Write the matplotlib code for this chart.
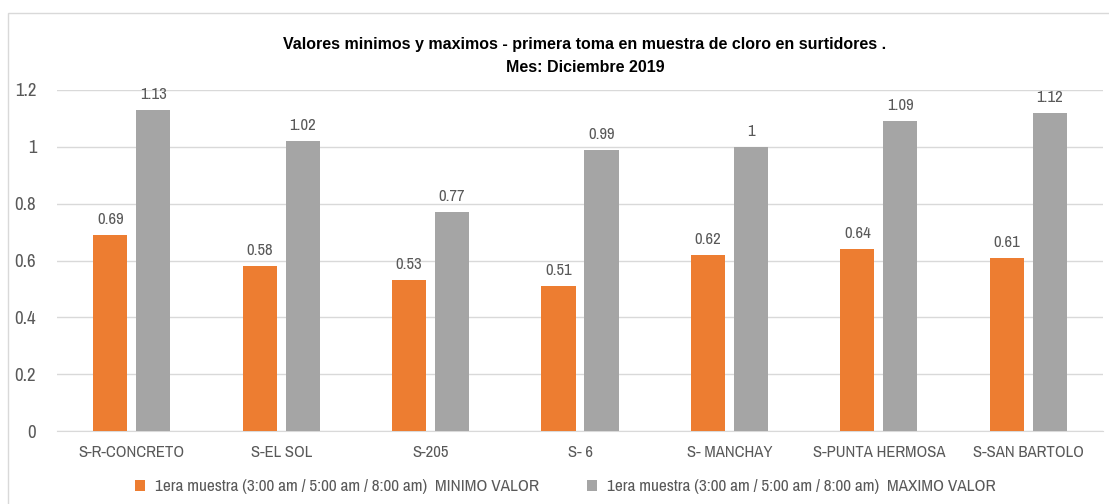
import matplotlib
matplotlib.use('Agg')
from matplotlib import pyplot as plt
from matplotlib import font_manager
from matplotlib.patches import Rectangle
import numpy as np

# Data
categories = ['S-R-CONCRETO', 'S-EL SOL', 'S-205', 'S- 6', 'S- MANCHAY', 'S-PUNTA HERMOSA', 'S-SAN BARTOLO']
min_values = [0.69, 0.58, 0.53, 0.51, 0.62, 0.64, 0.61]
max_values = [1.13, 1.02, 0.77, 0.99, 1.00, 1.09, 1.12]
min_labels = ['0.69', '0.58', '0.53', '0.51', '0.62', '0.64', '0.61']
max_labels = ['1.13', '1.02', '0.77', '0.99', '1', '1.09', '1.12']
yticks = [0, 0.2, 0.4, 0.6, 0.8, 1.0, 1.2]
ytick_labels = ['0', '0.2', '0.4', '0.6', '0.8', '1', '1.2']

# pick a narrow sans (Arial Narrow look-alike)
names = {f.name for f in font_manager.fontManager.ttflist}
narrow = 'Liberation Sans'
for cand in ['Liberation Sans Narrow', 'Arial Narrow', 'Archivo Narrow', 'Roboto Condensed', 'PT Sans Narrow']:
    if cand in names:
        narrow = cand
        break
plt.rcParams['font.family'] = [narrow, 'DejaVu Sans']

orange = '#ED7D31'
gray = '#A5A5A5'
txt = '#595959'

fig = plt.figure(figsize=(11.09, 5.04), dpi=100)
# chart frame
fig.patches.append(Rectangle((8 / 1109, -0.05), 1.2, 1 - 13 / 504 + 0.05, transform=fig.transFigure,
                             fill=False, edgecolor='#D9D9D9', lw=1))
ax = fig.add_axes([57 / 1109, 1 - 431 / 504, (1103 - 57) / 1109, (431 - 90) / 504])

x = np.arange(len(categories))
w = 0.228
off = 0.144
b1 = ax.bar(x - off, min_values, w, color=orange, label='1era muestra (3:00 am / 5:00 am / 8:00 am)  MINIMO VALOR', zorder=3)
b2 = ax.bar(x + off, max_values, w, color=gray, label='1era muestra (3:00 am / 5:00 am / 8:00 am)  MAXIMO VALOR', zorder=3)

for xi, v, lab in zip(x - off, min_values, min_labels):
    ax.text(xi, v + 0.028, lab, ha='center', va='bottom', fontsize=12, color=txt)
for xi, v, lab in zip(x + off, max_values, max_labels):
    ax.text(xi, v + 0.028, lab, ha='center', va='bottom', fontsize=12, color=txt)

ax.set_xlim(-0.5, len(categories) - 0.5)
ax.set_ylim(0, 1.2)
ax.set_yticks(yticks)
ax.set_yticklabels(ytick_labels)
ax.set_xticks(x)
ax.set_xticklabels(categories)
ax.tick_params(axis='x', length=0, labelsize=12, labelcolor=txt, pad=10)
ax.tick_params(axis='y', length=0, labelsize=13.5, labelcolor=txt, pad=15)
ax.yaxis.grid(True, color='#D9D9D9', lw=1, zorder=0)
for s in ['top', 'right', 'left']:
    ax.spines[s].set_visible(False)
ax.spines['bottom'].set_color('#D9D9D9')

# title in a bold regular-width sans
fig.text(0.5275, 1 - 45 / 504, 'Valores minimos y maximos - primera toma en muestra de cloro en surtidores .',
         ha='center', va='center', fontsize=11.5, fontweight='bold', color='black',
         family=['Liberation Sans', 'DejaVu Sans'])
fig.text(0.5275, 1 - 67 / 504, 'Mes: Diciembre 2019',
         ha='center', va='center', fontsize=11.5, fontweight='bold', color='black',
         family=['Liberation Sans', 'DejaVu Sans'])

fig.legend(handles=[b1, b2], loc='center', bbox_to_anchor=(0.51, 1 - 487 / 504), ncol=2,
           frameon=False, fontsize=12.4, labelcolor=txt, handlelength=0.55, handleheight=0.55,
           columnspacing=2.8, handletextpad=0.6)

fig.savefig('out.png', dpi=100)
